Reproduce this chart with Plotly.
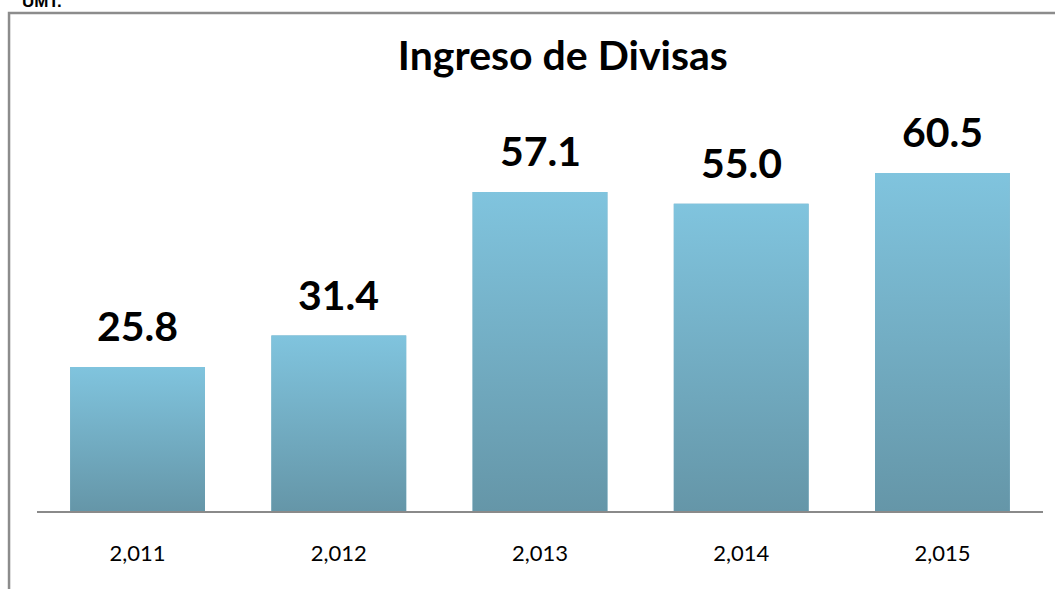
import plotly.graph_objects as go

years = ["2,011", "2,012", "2,013", "2,014", "2,015"]
values = [25.8, 31.4, 57.1, 55.0, 60.5]
labels = ["25.8", "31.4", "57.1", "55.0", "60.5"]
title_text = "Ingreso de Divisas"

TOP_COLOR = "rgb(128,196,222)"
BOTTOM_COLOR = "rgb(101,150,168)"
BAR_W = 0.67
FONT = "Lato"

idx = list(range(len(years)))
fig = go.Figure()

# base bar trace (data)
fig.add_trace(go.Bar(x=idx, y=values, width=BAR_W, marker=dict(color="rgb(116,173,195)", line=dict(width=0)),
                     hoverinfo="skip", showlegend=False))

# gradient overlay for each bar, built from the same values
for i, v in zip(idx, values):
    fig.add_trace(go.Scatter(
        x=[i - BAR_W / 2, i + BAR_W / 2, i + BAR_W / 2, i - BAR_W / 2, i - BAR_W / 2],
        y=[0, 0, v, v, 0],
        mode="lines", line=dict(width=0), fill="toself",
        fillgradient=dict(type="vertical", colorscale=[[0, BOTTOM_COLOR], [1, TOP_COLOR]]),
        hoverinfo="skip", showlegend=False))

for i, v, t in zip(idx, values, labels):
    fig.add_annotation(x=i, y=v, text="<b>%s</b>" % t, showarrow=False, yanchor="bottom",
                       yshift=15, font=dict(family=FONT, size=41, color="black"))

# Chart frame
fig.add_shape(type="rect", xref="paper", yref="paper", x0=-0.0278, x1=1.3, y0=-0.5, y1=1.2737,
              line=dict(color="#8c8c8c", width=2.5), fillcolor="rgba(0,0,0,0)", layer="below")

fig.add_annotation(xref="paper", yref="paper", x=-0.017, y=1.304, xanchor="left", yanchor="middle",
                   text="<b>UMT.</b>", showarrow=False, font=dict(family="Liberation Sans", size=17, color="black"))

fig.update_layout(
    width=1055, height=589,
    margin=dict(l=37, r=12, t=120, b=78),
    paper_bgcolor="white", plot_bgcolor="white",
    title=dict(text="<b>%s</b>" % title_text, x=0.5335, xanchor="center", y=0.906, yanchor="middle",
               font=dict(family=FONT, size=41, color="black")),
    xaxis=dict(range=[-0.5, 4.5], tickvals=idx, ticktext=years, showgrid=False, zeroline=False,
               showline=True, linecolor="#8a8a8a", linewidth=1.5, ticks="", ticklen=0,
               ticklabelstandoff=22,
               tickfont=dict(family=FONT, size=22, color="black"), fixedrange=True),
    yaxis=dict(range=[0, 70], visible=False, showgrid=False, zeroline=False, fixedrange=True),
    showlegend=False,
)

fig.write_html("out.html", config={"displayModeBar": False},
               post_script="document.body.style.margin='0';")
